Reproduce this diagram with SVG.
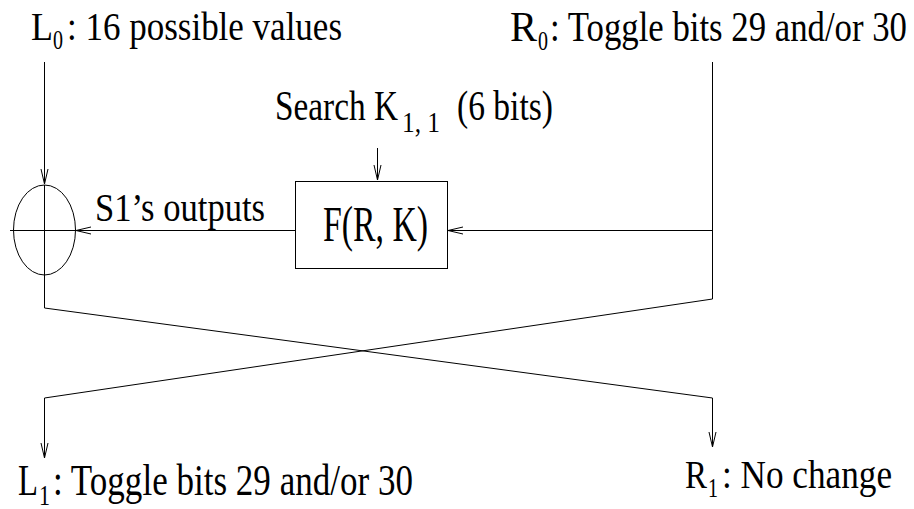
<svg xmlns="http://www.w3.org/2000/svg" width="914" height="509" viewBox="0 0 914 509">
  <style>
    .lbl { font-family: "Liberation Serif", "Times New Roman", serif; fill: #000; }
    .ln { fill: none; stroke: #000; stroke-width: 1; }
  </style>
  <defs>
    <!-- open V arrowhead -->
    <marker id="arr" markerUnits="userSpaceOnUse" viewBox="0 0 15 8" markerWidth="15" markerHeight="8" refX="15" refY="4" orient="auto" overflow="visible">
      <path d="M0,0.5 L15,4 L0,7.5" fill="none" stroke="#000" stroke-width="1"/>
    </marker>
  </defs>

  <rect width="914" height="509" fill="#fff"/>

  <!-- connectors -->
  <g id="connectors">
    <path class="ln" d="M44.5,62 V184" marker-end="url(#arr)"/>
    <path class="ln" d="M44.5,185 V308 L712.5,398 V447" marker-end="url(#arr)"/>
    <path class="ln" d="M712.5,62 V299 L44.5,398 V458" marker-end="url(#arr)"/>
    <path class="ln" d="M712.5,230.5 H448" marker-end="url(#arr)"/>
    <path class="ln" d="M295,230.5 H76" marker-end="url(#arr)"/>
    <path class="ln" d="M377.5,148 V180" marker-end="url(#arr)"/>
  </g>

  <!-- L0 input -->
  <g id="L0">
    <text class="lbl" x="31" y="40" font-size="40" textLength="22" lengthAdjust="spacingAndGlyphs">L</text>
    <text class="lbl" x="53" y="49" font-size="27" textLength="10" lengthAdjust="spacingAndGlyphs">0</text>
    <text class="lbl" x="67" y="40" font-size="40" textLength="275" lengthAdjust="spacingAndGlyphs">: 16 possible values</text>
  </g>

  <!-- R0 input -->
  <g id="R0">
    <text class="lbl" x="510" y="41" font-size="42" textLength="27" lengthAdjust="spacingAndGlyphs">R</text>
    <text class="lbl" x="538" y="50" font-size="28" textLength="10" lengthAdjust="spacingAndGlyphs">0</text>
    <text class="lbl" x="550" y="41" font-size="42" textLength="357" lengthAdjust="spacingAndGlyphs">: Toggle bits 29 and/or 30</text>
  </g>

  <!-- key search label -->
  <g id="key">
    <text class="lbl" x="275" y="120" font-size="43" textLength="123" lengthAdjust="spacingAndGlyphs">Search K</text>
    <text class="lbl" x="402" y="132" font-size="29" textLength="38" lengthAdjust="spacingAndGlyphs">1, 1</text>
    <text class="lbl" x="457" y="120" font-size="43" textLength="96" lengthAdjust="spacingAndGlyphs">(6 bits)</text>
  </g>

  <!-- XOR -->
  <g id="xor">
    <ellipse class="ln" cx="44.5" cy="230" rx="31" ry="45"/>
    <path class="ln" d="M10,230.5 H76 M44.5,185 V275"/>
  </g>

  <!-- round function -->
  <g id="F">
    <rect class="ln" x="295.5" y="181.5" width="152" height="87"/>
    <text class="lbl" x="323" y="241" font-size="51" textLength="105" lengthAdjust="spacingAndGlyphs">F(R, K)</text>
  </g>

  <!-- edge label -->
  <g id="s1-label">
    <text class="lbl" x="95" y="221" font-size="40" textLength="170" lengthAdjust="spacingAndGlyphs">S1’s outputs</text>
  </g>

  <!-- L1 output -->
  <g id="L1">
    <text class="lbl" x="18" y="495" font-size="45" textLength="20" lengthAdjust="spacingAndGlyphs">L</text>
    <text class="lbl" x="39" y="505" font-size="30" textLength="11" lengthAdjust="spacingAndGlyphs">1</text>
    <text class="lbl" x="53" y="495" font-size="45" textLength="360" lengthAdjust="spacingAndGlyphs">: Toggle bits 29 and/or 30</text>
  </g>

  <!-- R1 output -->
  <g id="R1">
    <text class="lbl" x="685" y="488" font-size="41" textLength="22" lengthAdjust="spacingAndGlyphs">R</text>
    <text class="lbl" x="708" y="497" font-size="28" textLength="10" lengthAdjust="spacingAndGlyphs">1</text>
    <text class="lbl" x="722" y="488" font-size="41" textLength="170" lengthAdjust="spacingAndGlyphs">: No change</text>
  </g>
</svg>
